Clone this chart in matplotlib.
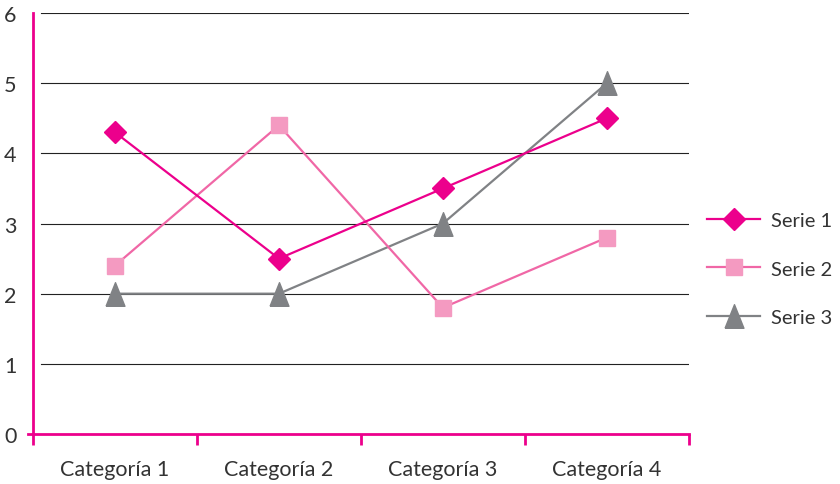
import matplotlib.pyplot as plt
from matplotlib.lines import Line2D

categorias = ['Categoría 1', 'Categoría 2', 'Categoría 3', 'Categoría 4']
serie1 = [4.3, 2.5, 3.5, 4.5]
serie2 = [2.4, 4.4, 1.8, 2.8]
serie3 = [2.0, 2.0, 3.0, 5.0]
y_ticks = [0, 1, 2, 3, 4, 5, 6]

magenta = '#EC008C'
rosa_linea = '#F067A6'
rosa_marca = '#F49AC1'
gris = '#808285'
texto = '#333333'

plt.rcParams['font.family'] = ['Lato', 'DejaVu Sans']

fig = plt.figure(figsize=(8.4, 4.85), dpi=100)
ax = fig.add_axes([0.0393, 0.1031, 0.8200 - 0.0393, 0.971 - 0.1031])

x = list(range(len(categorias)))

# lineas de cuadricula (empiezan un poco despues del eje)
for v in y_ticks[1:]:
    ax.axhline(v, xmin=0.012, xmax=1, color='#222222', lw=0.8, zorder=1)

triangulo = [(-0.8, -1), (0.8, -1), (0, 1), (-0.8, -1)]
ax.plot(x, serie3, color=gris, lw=1.6, marker=triangulo, markersize=17,
        markerfacecolor=gris, markeredgecolor=gris, label='Serie 3', zorder=3)
ax.plot(x, serie2, color=rosa_linea, lw=1.6, marker='s', markersize=12,
        markerfacecolor=rosa_marca, markeredgecolor=rosa_marca, label='Serie 2', zorder=4)
ax.plot(x, serie1, color=magenta, lw=1.6, marker='D', markersize=11.5,
        markerfacecolor=magenta, markeredgecolor=magenta, label='Serie 1', zorder=5)

ax.set_xlim(-0.5, len(categorias) - 0.5)
ax.set_ylim(0, 6)

for s in ['top', 'right']:
    ax.spines[s].set_visible(False)
for s in ['left', 'bottom']:
    ax.spines[s].set_color(magenta)
    ax.spines[s].set_linewidth(2)

# el eje x sobresale un poco a la izquierda
ax.add_line(Line2D([-0.008, 0], [0, 0], transform=ax.transAxes, color=magenta,
                   lw=2, clip_on=False))

ax.set_yticks(y_ticks)
ax.set_yticklabels([str(v) for v in y_ticks])
ax.tick_params(axis='y', length=0, pad=12, labelsize=15.5, labelcolor=texto)

ax.set_xticks([i - 0.5 for i in range(len(categorias) + 1)])
ax.set_xticklabels([])
ax.set_xticks(x, minor=True)
ax.set_xticklabels(categorias, minor=True)
ax.tick_params(axis='x', which='major', length=8, width=2, color=magenta, direction='out')
ax.tick_params(axis='x', which='minor', length=0, pad=18, labelsize=15.5, labelcolor=texto)

handles, labels = ax.get_legend_handles_labels()
leg = ax.legend(handles[::-1], labels[::-1], loc='center left',
                bbox_to_anchor=(1.0, 0.392), frameon=False, fontsize=14.5,
                handlelength=2.65, labelspacing=1.55, handletextpad=0.55)
for t in leg.get_texts():
    t.set_color(texto)

plt.savefig('out.png', dpi=100)
